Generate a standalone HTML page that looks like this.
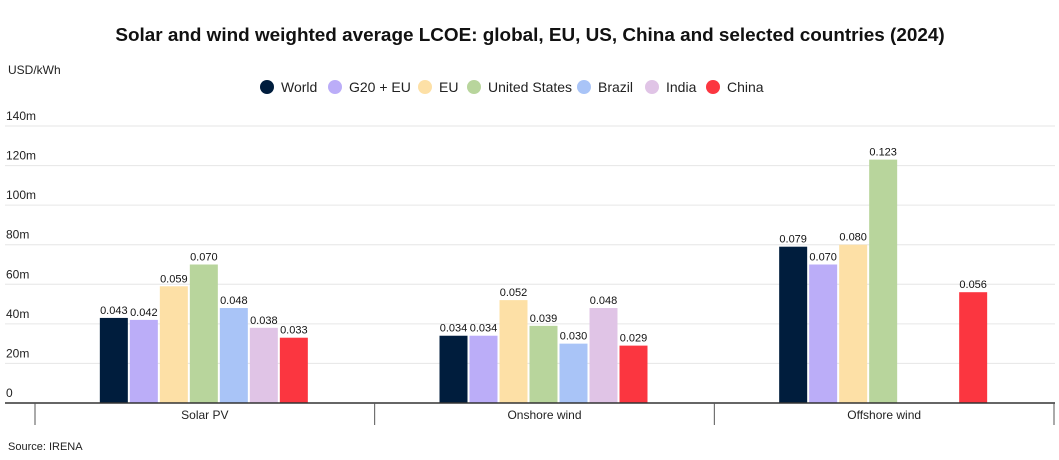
<!DOCTYPE html>
<html><head><meta charset="utf-8"><style>
body{margin:0;background:#fff;font-family:"Liberation Sans",sans-serif;}
svg text{font-family:"Liberation Sans",sans-serif;}
</style></head><body>
<svg id="c" width="1059" height="455" xmlns="http://www.w3.org/2000/svg">
<text x="530" y="41" text-anchor="middle" font-size="18.9" font-weight="bold" fill="#111">Solar and wind weighted average LCOE: global, EU, US, China and selected countries (2024)</text>
<text x="8" y="74" font-size="12" fill="#222">USD/kWh</text>
<g id="legend"></g>
<g id="grid"></g>
<g id="bars"></g>
<g id="xaxis"></g>
<text x="8" y="450" font-size="11" fill="#222">Source: IRENA</text>
</svg>
<script>
const categories=["Solar PV","Onshore wind","Offshore wind"];
const seriesNames=["World","G20 + EU","EU","United States","Brazil","India","China"];
const seriesColors=["#001d3d","#bbadf8","#fde0a6","#b8d59c","#a9c4f7","#e0c4e6","#fb3640"];
const world=[0.043,0.034,0.079];
const g20=[0.042,0.034,0.070];
const eu=[0.059,0.052,0.080];
const us=[0.070,0.039,0.123];
const brazil=[0.048,0.030,null];
const india=[0.038,0.048,null];
const china=[0.033,0.029,0.056];
const yTicks=[0,20,40,60,80,100,120,140];
const yTickLabels=["0","20m","40m","60m","80m","100m","120m","140m"];
const legendX=[267,335,425,474,584,652,713];
const series=[world,g20,eu,us,brazil,india,china];
const NS="http://www.w3.org/2000/svg";
function mk(t,a,p,txt){const e=document.createElementNS(NS,t);for(const k in a)e.setAttribute(k,a[k]);if(txt!=null)e.textContent=txt;p.appendChild(e);return e;}
const y0=403,yScale=277/140;
function y(v){return y0-v*yScale;}
const left=35,right=1054,bandW=(right-left)/categories.length;
function xBand(i){return left+i*bandW;}
const barW=28,slot=30;
const lg=document.getElementById('legend');
seriesNames.forEach((n,i)=>{
 const c=mk('circle',{cx:legendX[i],cy:87,r:7,fill:seriesColors[i]},lg);
 
 
 const t=mk('text',{x:legendX[i]+14,y:92,'font-size':14,fill:'#222'},lg,n);
 
 
});
const gr=document.getElementById('grid');
yTicks.forEach((v,i)=>{
 if(v>0){const l=mk('line',{x1:5,x2:1055,y1:y(v),y2:y(v),stroke:'#e6e6e6','stroke-width':1},gr);
 
 }
 const t=mk('text',{x:6,y:y(v)-6,'font-size':12,fill:'#222'},gr,yTickLabels[i]);
 
 
});
const bg=document.getElementById('bars');
categories.forEach((c,ci)=>{
 const cx=xBand(ci)+bandW/2,start=cx-slot*seriesNames.length/2;
 series.forEach((s,si)=>{
  const v=s[ci]; if(v==null)return;
  const bx=start+si*slot,by=y(v*1000);
  const r=mk('rect',{x:bx,y:by,width:barW,height:y0-by,fill:seriesColors[si]},bg);
  
  
  const t=mk('text',{x:bx+barW/2,y:by-4,'text-anchor':'middle','font-size':11,fill:'#111'},bg,v.toFixed(3));
  
  
 });
});
const xa=document.getElementById('xaxis');
const al=mk('line',{x1:5,x2:1055,y1:y0,y2:y0,stroke:'#333','stroke-width':1.5},xa);


for(let i=0;i<=categories.length;i++){
 const tk=mk('line',{x1:xBand(i),x2:xBand(i),y1:y0,y2:425,stroke:'#555','stroke-width':1},xa);
 
 
}
categories.forEach((c,i)=>{
 const t=mk('text',{x:xBand(i)+bandW/2,y:419,'text-anchor':'middle','font-size':12,fill:'#222'},xa,c);
 
 
});
</script>
</body></html>
